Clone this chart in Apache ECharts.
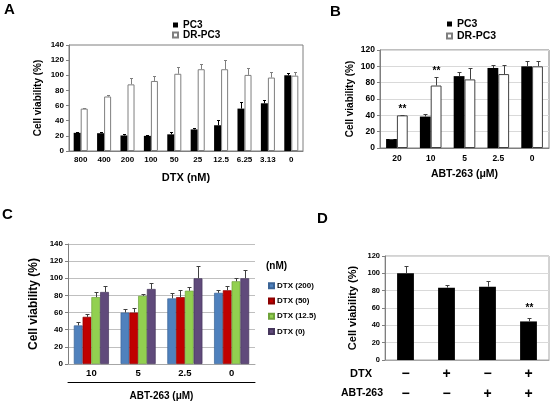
<!DOCTYPE html>
<html><head><meta charset="utf-8">
<script src="https://cdn.jsdelivr.net/npm/echarts@6/dist/echarts.min.js"></script>
<style>html,body{margin:0;padding:0;background:#fff}#c{width:550px;height:404px}</style>
</head><body><div id="c"></div>
<script>
// ---- Panel A ----
const catsA = ['800','400','200','100','50','25','12.5','6.25','3.13','0'];
const pc3A = [24, 23.5, 20.5, 20, 22, 28.5, 34, 56, 63, 100];
const pc3ASd = [1, 1, 2.5, 1, 3.5, 2.5, 7.5, 9, 4, 2.5];
const drA = [56, 72, 88, 92.5, 102, 108, 108, 100.5, 97, 99.5];
const drASd = [1, 2, 8, 6.5, 9, 6.5, 12, 8.5, 7.5, 5];
// ---- Panel B ----
const catsB = ['20','10','5','2.5','0'];
const pc3B = [11, 38.5, 88, 98, 100];
const pc3BSd = [0.5, 3.5, 4.5, 3.5, 7];
const drB = [40, 76.5, 84, 90.5, 100];
const drBSd = [1, 10.5, 13.5, 11.5, 6.5];
const starsB = [1, 1, 0, 0, 0];
// ---- Panel C ----
const catsC = ['10','5','2.5','0'];
const namesC = ['DTX (200)','DTX (50)','DTX (12.5)','DTX (0)'];
const valsC = [
  [45, 60, 76.5, 83],
  [55, 60, 78, 86],
  [78, 79.5, 85.5, 96.5],
  [84, 87.5, 100, 100]
];
const sdC = [
  [4, 4, 6, 3],
  [3, 5, 8, 5],
  [5.5, 2.5, 4.5, 4],
  [7, 6.5, 14, 9.5]
];
// ---- Panel D ----
const dtxRow = ['\u2212', '+', '\u2212', '+'];
const abtRow = ['\u2212', '\u2212', '+', '+'];
const valsD = [100, 83.5, 84.5, 44.5];
const sdD = [8.5, 3, 7, 4.5];
const starsD = [0, 0, 0, 1];

const F = 'Liberation Sans, Arial, sans-serif';
const colorsC = ['#4F81BD', '#C00000', '#92D050', '#604A7B'];
const bordersC = ['#3B6496', '#8C0000', '#6FA33A', '#46365C'];

function errSeries(name, xi, yi, vals, sds, stars, n, idx, gap, bgap, color, capHalf, starOff, starSize) {
  return {
    type: 'custom', name: name, xAxisIndex: xi, yAxisIndex: yi, z: 5,
    data: vals.map((v, i) => [i, v, sds[i], stars ? stars[i] : 0]),
    encode: { x: 0, y: 1 },
    renderItem: function (params, api) {
      const i = api.value(0), v = api.value(1), sd = api.value(2), s = api.value(3);
      const top = api.coord([i, v]);
      const e = api.coord([i, v + sd]);
      const band = api.size([1, 0])[0];
      const usable = band * (1 - gap);
      const bw = usable / (n + (n - 1) * bgap);
      const cx = Math.round(top[0] - usable / 2 + idx * bw * (1 + bgap) + bw / 2) + 0.5;
      const ey = Math.round(e[1]) + 0.5;
      const ch = [
        { type: 'line', shape: { x1: cx, y1: top[1], x2: cx, y2: ey }, style: { stroke: color, lineWidth: 1 } },
        { type: 'line', shape: { x1: cx - capHalf, y1: ey, x2: cx + capHalf, y2: ey }, style: { stroke: color, lineWidth: 1 } }
      ];
      if (s) {
        ch.push({ type: 'text', x: cx, y: ey - starOff, style: { text: '**', fontSize: starSize, fontWeight: 'bold', fontFamily: F, fill: '#000', align: 'center', verticalAlign: 'bottom' } });
      }
      return { type: 'group', children: ch };
    }
  };
}

const axisGray = '#7f7f7f';
function yAx(gi, max, nameGap, nameSize, labelSize, splitShow, splitColor) {
  return {
    type: 'value', gridIndex: gi, min: 0, max: max, interval: 20,
    name: 'Cell viability (%)', nameLocation: 'middle', nameRotate: 90, nameGap: nameGap,
    nameTextStyle: { fontFamily: F, fontWeight: 'bold', fontSize: nameSize, color: '#000' },
    axisLine: { show: true, lineStyle: { color: axisGray } },
    axisTick: { show: true, length: 3, lineStyle: { color: axisGray } },
    axisLabel: { fontFamily: F, fontWeight: 'bold', fontSize: labelSize, color: '#000', margin: 5 },
    splitLine: { show: splitShow, lineStyle: { color: splitColor || '#d9d9d9', width: 1 } }
  };
}

const option = {
  animation: false,
  backgroundColor: '#fff',
  grid: [
    { left: 69, right: 247, top: 45, bottom: 253, show: true, borderColor: axisGray, borderWidth: 1 },
    { left: 380, right: 1, top: 50, bottom: 256, show: true, borderColor: axisGray, borderWidth: 1 },
    { left: 68, right: 295, top: 244, bottom: 40 },
    { left: 385, right: 1, top: 256, bottom: 44, show: true, borderColor: '#a6a6a6', borderWidth: 1 }
  ],
  xAxis: [
    { type: 'category', gridIndex: 0, data: catsA,
      name: 'DTX (nM)', nameLocation: 'middle', nameGap: 21,
      nameTextStyle: { fontFamily: F, fontWeight: 'bold', fontSize: 11, color: '#000' },
      axisLine: { lineStyle: { color: axisGray } }, axisTick: { length: 3, lineStyle: { color: axisGray } },
      axisLabel: { fontFamily: F, fontWeight: 'bold', fontSize: 8, color: '#000', margin: 5, interval: 0 } },
    { type: 'category', gridIndex: 1, data: catsB,
      name: 'ABT-263 (\u03bcM)', nameLocation: 'middle', nameGap: 21,
      nameTextStyle: { fontFamily: F, fontWeight: 'bold', fontSize: 10.5, color: '#000' },
      axisLine: { lineStyle: { color: axisGray } }, axisTick: { length: 3, lineStyle: { color: axisGray } },
      axisLabel: { fontFamily: F, fontWeight: 'bold', fontSize: 8.5, color: '#000', margin: 6, interval: 0 } },
    { type: 'category', gridIndex: 2, data: catsC,
      axisLine: { lineStyle: { color: '#a6a6a6' } }, axisTick: { length: 3, lineStyle: { color: '#a6a6a6' } },
      axisLabel: { fontFamily: F, fontWeight: 'bold', fontSize: 9.5, color: '#000', margin: 4, interval: 0 } },
    { type: 'category', gridIndex: 2, data: catsC, position: 'bottom', offset: 18,
      name: 'ABT-263 (\u03bcM)', nameLocation: 'middle', nameGap: 9,
      nameTextStyle: { fontFamily: F, fontWeight: 'bold', fontSize: 10, color: '#000' },
      axisLine: { show: true, lineStyle: { color: '#000', width: 1 } }, axisTick: { show: false },
      axisLabel: { show: false } },
    { type: 'category', gridIndex: 3, data: dtxRow.map((d, i) => d + '\n' + abtRow[i]),
      axisLine: { lineStyle: { color: '#a6a6a6' } }, axisTick: { length: 3, lineStyle: { color: '#a6a6a6' } },
      axisLabel: { fontFamily: F, fontWeight: 'bold', fontSize: 14, lineHeight: 20, color: '#000', margin: 4, interval: 0 } }
  ],
  yAxis: [
    yAx(0, 140, 26, 10, 8, false),
    yAx(1, 120, 25, 10, 8.5, true, '#d9d9d9'),
    yAx(2, 140, 28, 12, 8, true, '#bfbfbf'),
    yAx(3, 120, 27, 11, 7.5, true, '#d9d9d9')
  ],
  legend: [
    { data: ['PC3', 'DR-PC3'], orient: 'vertical', left: 167, top: 15, itemWidth: 5, itemHeight: 5, itemGap: 0,
      icon: 'rect', textStyle: { fontFamily: F, fontWeight: 'bold', fontSize: 10, lineHeight: 9.5, color: '#000' }, selectedMode: false },
    { data: ['PC3', 'DR-PC3'], orient: 'vertical', left: 441, top: 13, itemWidth: 5, itemHeight: 5, itemGap: 0,
      icon: 'rect', textStyle: { fontFamily: F, fontWeight: 'bold', fontSize: 10.5, lineHeight: 12, color: '#000' }, selectedMode: false },
    { data: namesC, orient: 'vertical', left: 263, top: 273, itemWidth: 5, itemHeight: 5, itemGap: 0,
      icon: 'rect', textStyle: { fontFamily: F, fontWeight: 'bold', fontSize: 8, lineHeight: 15.3, color: '#000', padding: [0,0,0,-2] }, selectedMode: false }
  ],
  graphic: [
    { type: 'text', left: 4, top: 2, style: { text: 'A', font: 'bold 15px ' + F, fill: '#000' } },
    { type: 'text', left: 330, top: 4, style: { text: 'B', font: 'bold 15px ' + F, fill: '#000' } },
    { type: 'text', left: 2, top: 207, style: { text: 'C', font: 'bold 15px ' + F, fill: '#000' } },
    { type: 'text', left: 317, top: 211, style: { text: 'D', font: 'bold 15px ' + F, fill: '#000' } },
    { type: 'text', left: 266, top: 261, style: { text: '(nM)', font: 'bold 10px ' + F, fill: '#000' } },
    { type: 'text', right: 178, top: 368, style: { text: 'DTX', font: 'bold 11px ' + F, fill: '#000' } },
    { type: 'text', right: 167, top: 388, style: { text: 'ABT-263', font: 'bold 10.5px ' + F, fill: '#000' } }
  ],
  series: [
    { type: 'bar', name: 'PC3', xAxisIndex: 0, yAxisIndex: 0, data: pc3A, barGap: '0%', barCategoryGap: '40%',
      itemStyle: { color: '#000', borderColor: '#000', borderWidth: 0 } },
    { type: 'bar', name: 'DR-PC3', xAxisIndex: 0, yAxisIndex: 0, data: drA, barGap: '0%', barCategoryGap: '40%',
      itemStyle: { color: '#fff', borderColor: '#7f7f7f', borderWidth: 1 } },
    errSeries('eA1', 0, 0, pc3A, pc3ASd, null, 2, 0, 0.4, 0, '#000', 1.5, 2, 9),
    errSeries('eA2', 0, 0, drA, drASd, null, 2, 1, 0.4, 0, '#7f7f7f', 1.5, 2, 9),

    { type: 'bar', name: 'PC3', xAxisIndex: 1, yAxisIndex: 1, data: pc3B, barGap: '0%', barCategoryGap: '36%',
      itemStyle: { color: '#000', borderColor: '#000', borderWidth: 0 } },
    { type: 'bar', name: 'DR-PC3', xAxisIndex: 1, yAxisIndex: 1, data: drB, barGap: '0%', barCategoryGap: '36%',
      itemStyle: { color: '#fff', borderColor: '#404040', borderWidth: 1 } },
    errSeries('eB1', 1, 1, pc3B, pc3BSd, null, 2, 0, 0.36, 0, '#404040', 2, 2, 9),
    errSeries('eB2', 1, 1, drB, drBSd, starsB, 2, 1, 0.36, 0, '#404040', 2, 1, 10),

    ...namesC.map((nm, k) => ({ type: 'bar', name: nm, xAxisIndex: 2, yAxisIndex: 2, data: valsC[k], barGap: '0%', barCategoryGap: '25%',
      itemStyle: { color: colorsC[k], borderColor: bordersC[k], borderWidth: 0.7 } })),
    ...namesC.map((nm, k) => errSeries('eC' + k, 2, 2, valsC[k], sdC[k], null, 4, k, 0.25, 0, '#404040', 2, 2, 9)),

    { type: 'bar', name: 'D', xAxisIndex: 4, yAxisIndex: 3, data: valsD, barCategoryGap: '59%',
      itemStyle: { color: '#000' } },
    errSeries('eD', 4, 3, valsD, sdD, starsD, 1, 0, 0.59, 0, '#404040', 2, 5, 10)
  ]
};
const chart = echarts.init(document.getElementById('c'), null, { renderer: 'canvas' });
chart.setOption(option);
</script></body></html>
